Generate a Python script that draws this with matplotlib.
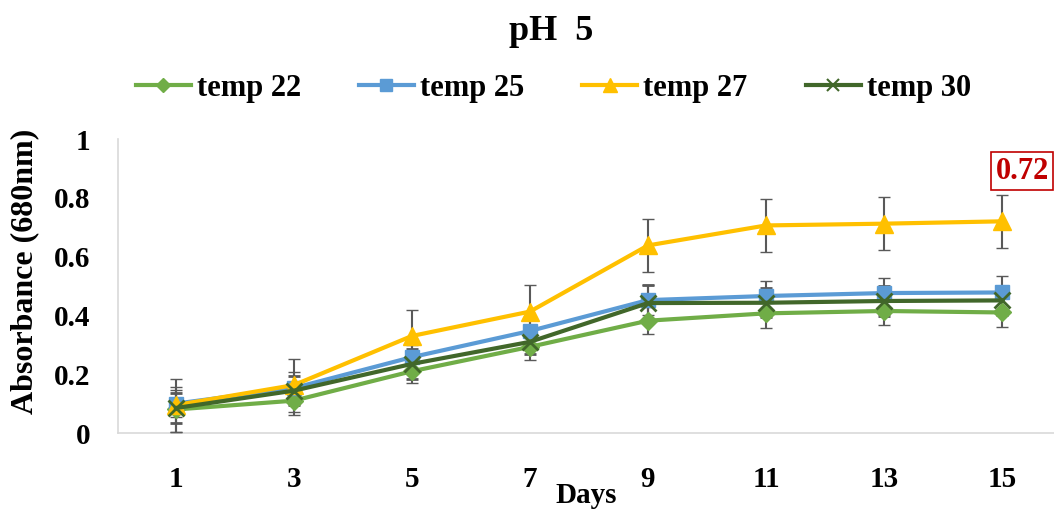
import numpy as np
import matplotlib.pyplot as plt
from matplotlib.lines import Line2D

plt.rcParams['font.family'] = ['Liberation Serif', 'DejaVu Serif']
plt.rcParams['font.weight'] = 'bold'

days = ['1', '3', '5', '7', '9', '11', '13', '15']
t22 = [0.08, 0.11, 0.21, 0.293, 0.382, 0.407, 0.415, 0.41]
t25 = [0.10, 0.153, 0.258, 0.347, 0.452, 0.466, 0.476, 0.478]
t27 = [0.095, 0.163, 0.33, 0.413, 0.638, 0.706, 0.712, 0.72]
t30 = [0.085, 0.144, 0.235, 0.31, 0.442, 0.443, 0.449, 0.451]
e22 = [0.075, 0.05, 0.04, 0.045, 0.046, 0.05, 0.048, 0.048]
e25 = [0.045, 0.055, 0.04, 0.04, 0.05, 0.05, 0.05, 0.055]
e27 = [0.09, 0.09, 0.09, 0.09, 0.09, 0.09, 0.09, 0.09]
e30 = [0.05, 0.05, 0.05, 0.04, 0.06, 0.05, 0.05, 0.05]

x = np.arange(len(days))

fig = plt.figure(figsize=(10.54, 5.09), dpi=100)
ax = fig.add_axes([118/1054, 1 - 433/509, 1 - 118/1054, (433 - 139)/509])

series = [
    ('temp 22', t22, e22, '#70AD47', 'D', 9.5),
    ('temp 25', t25, e25, '#5B9BD5', 's', 10.5),
    ('temp 27', t27, e27, '#FFC000', '^', 12.5),
    ('temp 30', t30, e30, '#41672A', 'x', 11.5),
]
handles = []
for name, vals, err, col, mk, ms in series:
    ax.errorbar(x, vals, yerr=err, color=col, lw=3, marker=mk, ms=ms,
                mew=2 if mk == 'x' else 1, ecolor='#595959', elinewidth=1.5,
                capsize=4.5, capthick=1.5, zorder=3)
    handles.append(Line2D([], [], color=col, lw=3, marker=mk, ms=ms * 0.8,
                          mew=1.5 if mk == 'x' else 1, label=name))

ax.text(7.17, 0.891, '0.72', color='#C00000', fontsize=22, fontweight='bold',
        ha='center', va='center',
        bbox=dict(boxstyle='square,pad=0.15', fc='white', ec='#C00000', lw=1.2))

ax.set_xlim(-0.49, 7.44)
ax.set_ylim(0, 1)
ax.set_xticks(x)
ax.set_xticklabels(days)
ax.set_yticks([0, 0.2, 0.4, 0.6, 0.8, 1.0])
ax.set_yticklabels(['0', '0.2', '0.4', '0.6', '0.8', '1'])
ax.tick_params(length=0, labelsize=21)
ax.tick_params(axis='x', pad=24)
ax.tick_params(axis='y', pad=20)
for s in ['top', 'right']:
    ax.spines[s].set_visible(False)
for s in ['left', 'bottom']:
    ax.spines[s].set_color('#D9D9D9')
    ax.spines[s].set_linewidth(1.2)

ax.set_xlabel('Days', fontsize=21, fontweight='bold', labelpad=-8)
fig.text(25/1054, 1 - 271/509, 'Absorbance (680nm)', rotation=90, ha='center',
         va='center', fontsize=23, fontweight='bold')
fig.text(0.523, 0.938, 'pH  5', ha='center', va='center', fontsize=26, fontweight='bold')
fig.legend(handles=handles, loc='center', bbox_to_anchor=(0.525, 0.827), ncol=4,
           frameon=False, fontsize=22, handlelength=1.8, columnspacing=1.9,
           handletextpad=0.2)

fig.savefig('out.png', dpi=100)
